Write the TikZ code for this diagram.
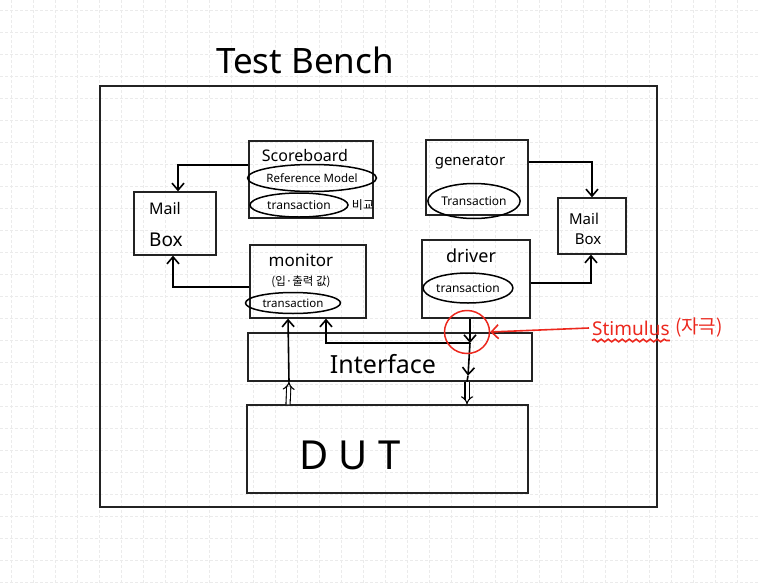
\documentclass[tikz,border=0pt]{standalone}
\usepackage{fontspec}
\setmainfont{Noto Sans}
\newfontfamily\kr{Noto Sans CJK KR}
\usetikzlibrary{arrows.meta,decorations.pathmorphing,shapes.geometric}
\definecolor{stimred}{RGB}{236,40,30}
\definecolor{boxline}{RGB}{35,35,35}
\definecolor{gridc}{RGB}{235,235,235}
\begin{document}
\begin{tikzpicture}[x=1pt,y=-1pt,
  box/.style={draw=boxline,line width=1.3pt,inner sep=0pt,rectangle},
  hand/.style={line width=1.6pt},
  arr/.style={hand,-{Straight Barb[length=7pt,width=12pt]}},
  dbl/.style={double,double distance=3pt,line width=1.1pt,-{Implies}},
  oval/.style={ellipse,draw,line width=1.5pt,inner sep=0pt},
  lbl/.style={inner sep=0pt},
  gridline/.style={draw=gridc,line width=0.7pt,dash pattern=on 3pt off 2pt},
]
\useasboundingbox (0,0) rectangle (758,584);
\fill[white] (0,0) rectangle (758,584);
\foreach \x in {11,33,...,757} \draw[gridline] (\x,0) -- (\x,584);
\foreach \y in {10,32,...,583} \draw[gridline] (0,\y) -- (758,\y);

% title
\node[lbl,font=\fontsize{35}{40}\selectfont] (title) at (305,60) {Test Bench};

% outer test bench box
\node[box,line width=1.6pt,minimum width=557pt,minimum height=421pt] (tb) at (378.5,296.5) {};

% scoreboard
\node[box,minimum width=124pt,minimum height=77pt] (sb) at (311,179.5) {};
\node[lbl,font=\fontsize{16}{18}\selectfont] (sbt) at (305,155) {Scoreboard};
\node[oval,minimum width=125pt,minimum height=27pt,font=\fontsize{11.5}{13}\selectfont] (refm) at (312,178) {Reference Model};
\node[oval,minimum width=98pt,minimum height=24pt,font=\fontsize{12}{14}\selectfont] (sbtr) at (299,205) {transaction};
\node[lbl,font=\kr\fontsize{12}{14}\selectfont] (cmp) at (363,205) {비교};

% left mail box
\node[box,minimum width=82pt,minimum height=63pt] (mbl) at (175,223.5) {};
\node[lbl,font=\fontsize{16}{18}\selectfont] (mblt1) at (165,208) {Mail};
\node[lbl,font=\fontsize{19}{21}\selectfont] (mblt2) at (166,240) {Box};

% generator
\node[box,minimum width=102pt,minimum height=75pt] (gen) at (477,177.5) {};
\node[lbl,font=\fontsize{15}{17}\selectfont] (gent) at (470,162) {generator};
\node[oval,minimum width=86pt,minimum height=35pt,font=\fontsize{12}{14}\selectfont] (gentr) at (474,201) {Transaction};

% right mail box
\node[box,minimum width=68pt,minimum height=56pt] (mbr) at (592,226) {};
\node[lbl,font=\fontsize{15}{17}\selectfont] (mbrt1) at (584,219) {Mail};
\node[lbl,font=\fontsize{15}{17}\selectfont] (mbrt2) at (588,239) {Box};

% monitor
\node[box,minimum width=116pt,minimum height=73pt] (mon) at (308,281.5) {};
\node[lbl,font=\fontsize{17}{19}\selectfont] (mont) at (301,260) {monitor};
\node[lbl,font=\kr\fontsize{11.5}{13}\selectfont] (monk) at (301,282) {(입·출력 값)};
\node[oval,minimum width=95pt,minimum height=21pt,font=\fontsize{11.5}{13}\selectfont] (montr) at (293,303) {transaction};

% driver
\node[box,minimum width=108pt,minimum height=78pt] (drv) at (476,279) {};
\node[lbl,font=\fontsize{18}{20}\selectfont] (drvt) at (471,256) {driver};
\node[oval,minimum width=87pt,minimum height=30pt,font=\fontsize{12}{14}\selectfont] (drvtr) at (468,288) {transaction};

% interface and DUT
\node[box,minimum width=284pt,minimum height=48pt] (ifc) at (390,357) {};
\node[lbl,font=\fontsize{25}{28}\selectfont] (ifct) at (383,364) {Interface};
\node[box,minimum width=281pt,minimum height=88pt] (dut) at (387.5,449) {};
\node[lbl,font=\fontsize{40}{44}\selectfont\addfontfeature{LetterSpace=25}] (dutt) at (350,455) {DUT};

% connectors to mail boxes
\draw[arr] ([yshift=14.5pt]sb.west) -| ([xshift=3pt]mbl.north);
\draw[arr] ([yshift=-5.5pt]mon.west) -| ([xshift=-2pt]mbl.south);
\draw[arr] ([yshift=15.5pt]gen.east) -| (mbr.north);
\draw[arr] ([yshift=-4pt]drv.east) -| ([xshift=-1pt]mbr.south);

% monitor inputs
\coordinate (tap) at (470,343);
\draw[dbl] ([xshift=-99.5pt]dut.north) -- ([xshift=-101pt]ifc.south);
\draw[arr] ([xshift=-101pt]ifc.south) -- ([xshift=-20pt]mon.south);
\draw[arr] (tap) -| ([xshift=18pt]mon.south);

% driver output
\draw[arr] ([xshift=-6pt]drv.south) -- (tap);
\draw[arr] (tap) -- ([xshift=78pt,yshift=6pt]ifc.south);
\draw[hand] ([xshift=78pt,yshift=6pt]ifc.south) -- ([xshift=77pt]ifc.south);
\draw[dbl] ([xshift=77pt]ifc.south) -- ([xshift=79.5pt]dut.north);

% stimulus annotation
\node[ellipse,draw=stimred,line width=1.5pt,minimum width=45pt,minimum height=43pt] (circ) at (467,332) {};
\node[lbl,text=stimred,font=\fontsize{19}{21}\selectfont,anchor=west] (stim) at (592,328) {Stimulus};
\node[lbl,text=stimred,font=\kr\fontsize{19}{21}\selectfont,anchor=west] (stimk) at ([xshift=5pt]stim.east) {(자극)};
\draw[hand,draw=stimred,-{Straight Barb[length=7pt,width=14pt]}] ([xshift=-3pt]stim.west) -- (circ.east);
\draw[hand,draw=stimred,decorate,decoration={snake,amplitude=1.3pt,segment length=7pt}]
  ([yshift=-5pt]stim.south west) -- ([yshift=-5pt]stim.south east);
\end{tikzpicture}
\end{document}
